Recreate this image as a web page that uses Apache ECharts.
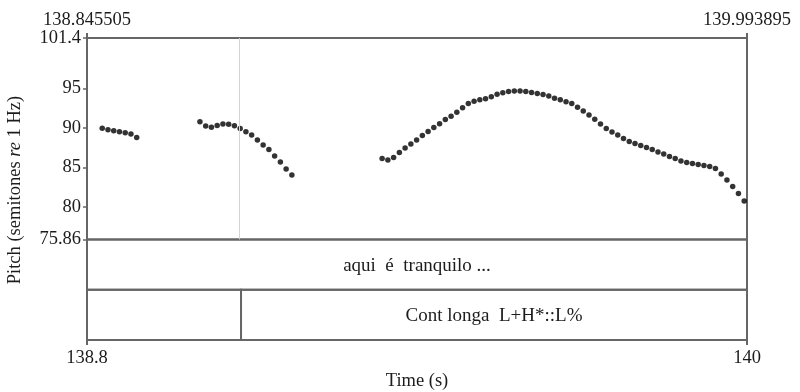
<!DOCTYPE html>
<html><head><meta charset="utf-8">
<script src="https://cdn.jsdelivr.net/npm/echarts@6/dist/echarts.min.js"></script>
<style>html,body{margin:0;padding:0;background:#fff}#c{width:800px;height:392px}</style>
</head><body><div id="c"></div>
<script>
// ---- data ----
const tStart = 138.845505, tEnd = 139.993895;
const yMin = 75.86, yMax = 101.4;
const yTickValues = [75.86, 80, 85, 90, 95, 101.4];
const topTickLabels = ['138.845505', '139.993895'];
const bottomTickLabels = ['138.8', '140'];

const seg1Times = [138.872, 138.882, 138.892, 138.902, 138.912, 138.922, 138.932];
const seg1Pitch = [89.94, 89.78, 89.65, 89.52, 89.39, 89.22, 88.77];

const seg2Times = [139.042, 139.052, 139.062, 139.072, 139.082, 139.092, 139.102, 139.112, 139.122,
  139.132, 139.142, 139.152, 139.162, 139.172, 139.182, 139.192, 139.202];
const seg2Pitch = [90.77, 90.25, 90.08, 90.29, 90.48, 90.46, 90.28, 89.91, 89.52,
  89.09, 88.46, 87.82, 87.25, 86.43, 85.67, 84.78, 84.03];

const seg3Times = [139.359, 139.369, 139.379, 139.389, 139.399, 139.409, 139.419, 139.429, 139.439, 139.449,
  139.459, 139.469, 139.479, 139.489, 139.499, 139.509, 139.519, 139.529, 139.539, 139.549,
  139.559, 139.569, 139.579, 139.589, 139.599, 139.609, 139.619, 139.629, 139.639, 139.649,
  139.659, 139.669, 139.679, 139.689, 139.699, 139.709, 139.719, 139.729, 139.739, 139.749,
  139.759, 139.769, 139.779, 139.789, 139.799, 139.809, 139.819, 139.829, 139.839, 139.849,
  139.859, 139.869, 139.879, 139.889, 139.899, 139.909, 139.919, 139.929, 139.939, 139.949,
  139.959, 139.969, 139.979, 139.989];
const seg3Pitch = [86.11, 85.92, 86.24, 86.87, 87.44, 87.95, 88.46, 89.03, 89.53, 90.04,
  90.54, 91.05, 91.49, 92.00, 92.57, 93.08, 93.39, 93.58, 93.71, 93.96,
  94.28, 94.47, 94.62, 94.68, 94.68, 94.62, 94.49, 94.37, 94.22, 94.03,
  93.77, 93.58, 93.33, 93.08, 92.63, 92.13, 91.62, 91.11, 90.48, 89.91,
  89.47, 89.09, 88.65, 88.27, 88.01, 87.76, 87.51, 87.25, 86.94, 86.68,
  86.37, 86.11, 85.80, 85.61, 85.48, 85.35, 85.23, 85.10, 84.85, 84.15,
  83.39, 82.57, 81.68, 80.73];

const boundaryTime = 139.1135;
// tier rows: 1 = upper (words), 0 = lower (tones)
const tierStarts = [tStart, tStart, boundaryTime];
const tierEnds   = [tEnd, boundaryTime, tEnd];
const tierRows   = [1, 0, 0];
const tierTexts  = ['aqui  é  tranquilo ...', '', 'Cont longa  L+H*::L%'];

// ---- build ----
const pitchData = [];
[[seg1Times, seg1Pitch], [seg2Times, seg2Pitch], [seg3Times, seg3Pitch]].forEach(([ts, ps]) => {
  ts.forEach((t, i) => pitchData.push([t, ps[i]]));
});
const tierData = tierStarts.map((s, i) => [s, tierEnds[i], tierRows[i]]);

const FONT = 'Liberation Serif, Times New Roman, serif';
const TXT = '#1c1c1c';
const LINE = '#666';
const FS = 18.5;

const chart = echarts.init(document.getElementById('c'), null, {renderer: 'canvas'});
chart.setOption({
  animation: false,
  backgroundColor: '#fff',
  textStyle: {fontFamily: FONT},
  grid: [
    {left: 87, top: 38, width: 660, height: 201.4, show: true, borderColor: LINE, borderWidth: 2, backgroundColor: 'transparent'},
    {left: 87, top: 239.4, width: 660, height: 102, show: false}
  ],
  xAxis: [
    {gridIndex: 0, type: 'value', position: 'top', min: tStart, max: tEnd,
      axisLine: {show: false}, splitLine: {show: false},
      axisTick: {show: true, length: 5, inside: false, customValues: [tStart, tEnd], lineStyle: {color: LINE, width: 2}},
      axisLabel: {show: true, customValues: [tStart, tEnd], margin: 8, fontSize: FS, color: TXT, fontFamily: FONT,
        formatter: v => (Math.abs(v - tStart) < 1e-6 ? topTickLabels[0] : topTickLabels[1])}},
    {gridIndex: 1, type: 'value', position: 'bottom', min: tStart, max: tEnd,
      axisLine: {show: false}, splitLine: {show: false},
      axisTick: {show: true, length: 5, inside: false, customValues: [tStart, tEnd], lineStyle: {color: LINE, width: 2}},
      axisLabel: {show: true, customValues: [tStart, tEnd], margin: 9, fontSize: FS, color: TXT, fontFamily: FONT,
        formatter: v => (Math.abs(v - tStart) < 1e-6 ? bottomTickLabels[0] : bottomTickLabels[1])},
      name: 'Time (s)', nameLocation: 'middle', nameGap: 32,
      nameTextStyle: {fontSize: FS, color: TXT, fontFamily: FONT}}
  ],
  yAxis: [
    {gridIndex: 0, type: 'value', min: yMin, max: yMax,
      axisLine: {show: false}, splitLine: {show: false},
      axisTick: {show: true, length: 4, inside: false, customValues: yTickValues, lineStyle: {color: LINE, width: 1.5}},
      axisLabel: {show: true, customValues: yTickValues, margin: 6, fontSize: FS, color: TXT, fontFamily: FONT,
        formatter: v => String(v)}},
    {gridIndex: 1, type: 'value', min: 0, max: 2, show: false}
  ],
  graphic: [{
    type: 'text', x: 15, y: 190, rotation: Math.PI / 2,
    style: {
      text: 'Pitch (semitones {i|re} 1 Hz)',
      rich: {i: {fontStyle: 'italic', fontSize: FS, fontFamily: FONT, fill: TXT}},
      fontSize: FS, fontFamily: FONT, fill: TXT, align: 'center', verticalAlign: 'middle'
    }
  }],
  series: [
    {type: 'scatter', xAxisIndex: 0, yAxisIndex: 0, data: pitchData, symbol: 'circle', symbolSize: 5.5,
      itemStyle: {color: '#000'}, silent: true,
      markLine: {silent: true, symbol: 'none', label: {show: false},
        lineStyle: {color: '#d4d4d4', width: 1, type: 'solid'},
        data: [{xAxis: boundaryTime}]}},
    {type: 'custom', xAxisIndex: 1, yAxisIndex: 1, data: tierData, clip: false, silent: true,
      renderItem: function (params, api) {
        const s = api.value(0), e = api.value(1), row = api.value(2);
        const p0 = api.coord([s, row + 1]);
        const p1 = api.coord([e, row]);
        return {type: 'group', children: [
          {type: 'rect', shape: {x: p0[0], y: p0[1], width: p1[0] - p0[0], height: p1[1] - p0[1]},
            style: {fill: 'none', stroke: LINE, lineWidth: 2}},
          {type: 'text', x: (p0[0] + p1[0]) / 2, y: (p0[1] + p1[1]) / 2 + 1,
            style: {text: tierTexts[params.dataIndex], fontSize: 19, fontFamily: FONT, fill: TXT,
              align: 'center', verticalAlign: 'middle'}}
        ]};
      }}
  ]
});
</script></body></html>
